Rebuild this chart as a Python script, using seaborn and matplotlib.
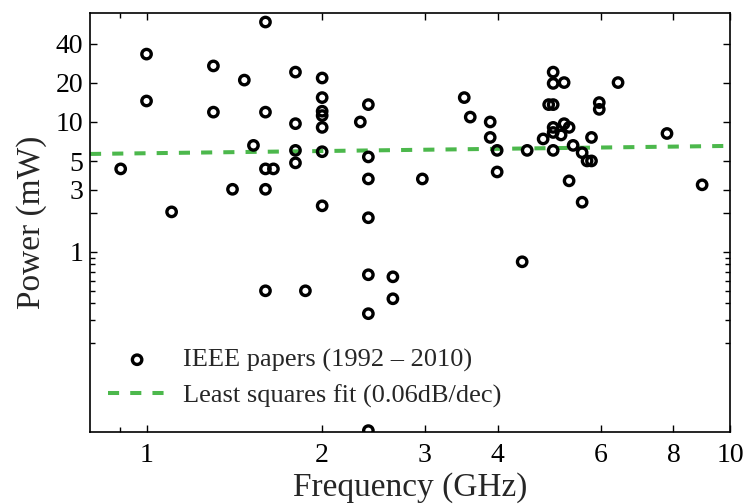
import numpy as np
import pandas as pd
import matplotlib
matplotlib.use("Agg")
import matplotlib.pyplot as plt
import seaborn as sns
from matplotlib.ticker import FixedLocator, FixedFormatter, NullFormatter

# ---- data ----
freq_ghz = [0.903, 1.0, 1.0, 1.104, 1.302, 1.302, 1.404, 1.471, 1.525, 1.599,
            1.599, 1.599, 1.650, 1.599, 1.800, 1.800, 1.800, 1.800, 2.0, 2.0,
            2.0, 2.0, 2.0, 2.0, 2.0, 2.325, 2.4, 2.4, 2.4, 2.4,
            1.599, 1.872, 2.4, 2.644, 2.644, 2.4, 2.4, 2.97, 3.504, 3.588,
            3.882, 3.882, 3.99, 3.99, 4.404, 4.492, 4.977, 4.977, 5.197, 4.89,
            4.977, 4.977, 4.977, 5.197, 5.30, 5.135, 4.784, 4.977, 5.385, 5.58,
            5.69, 5.79, 5.30, 5.58, 5.79, 5.97, 5.97, 6.43, 7.80, 8.96]
power_mw = [4.35, 33.3, 14.5, 2.03, 27.0, 11.9, 3.03, 21.0, 6.6, 58.8,
            11.9, 4.35, 4.35, 3.03, 24.2, 9.7, 6.04, 4.84, 21.8, 15.4,
            12.1, 11.2, 9.08, 5.9, 2.26, 10.0, 13.6, 5.38, 3.64, 1.83,
            0.501, 0.501, 0.666, 0.642, 0.435, 0.334, 0.042, 3.64, 15.4, 10.9,
            10.0, 7.6, 6.04, 4.12, 0.838, 6.04, 24.2, 19.8, 20.1, 13.6,
            13.6, 9.08, 8.3, 9.7, 9.08, 7.94, 7.4, 6.04, 6.6, 5.8,
            5.01, 5.01, 3.52, 2.41, 7.6, 14.1, 12.5, 20.1, 8.15, 3.28]

fit_x = [0.8, 10.0]
fit_y = [5.67, 6.54]

x_major = [1, 2, 3, 4, 6, 8, 10]
x_major_labels = ["1", "2", "3", "4", "6", "8", "10"]
x_minor = [0.9]
y_major = [1, 2, 3, 5, 10, 20, 40]
y_major_labels = ["1", "", "3", "5", "10", "20", "40"]
y_minor = [0.2, 0.3, 0.4, 0.5, 0.6, 0.7, 0.8, 0.9]

scatter_label = "IEEE papers (1992 \u2013 2010)"
fit_label = "Least squares fit (0.06dB/dec)"

# ---- style ----
sns.set_style("ticks")
plt.rcParams["font.family"] = ["Liberation Serif", "DejaVu Serif"]
plt.rcParams["lines.scale_dashes"] = False

fig = plt.figure(figsize=(7.45, 5.04), dpi=100)
ax = fig.add_axes([0.1208, 0.1429, 0.859, 0.8313])

pts = pd.DataFrame({"f": freq_ghz, "p": power_mw})
fit = pd.DataFrame({"f": fit_x, "p": fit_y})

sns.lineplot(data=fit, x="f", y="p", ax=ax, color="#4cb84c", linewidth=2.9,
             dashes=False, label=fit_label, zorder=2)
ax.lines[-1].set_dashes([8, 8])
sns.scatterplot(data=pts, x="f", y="p", ax=ax, marker="o", s=46,
                facecolors="none", edgecolors="black", linewidth=2.4,
                label=scatter_label, zorder=3)

ax.set_xscale("log")
ax.set_yscale("log")
ax.set_xlim(0.8, 10)
ax.set_ylim(0.041, 69)

ax.xaxis.set_major_locator(FixedLocator(x_major))
ax.xaxis.set_major_formatter(FixedFormatter(x_major_labels))
ax.xaxis.set_minor_locator(FixedLocator(x_minor))
ax.xaxis.set_minor_formatter(NullFormatter())
ax.yaxis.set_major_locator(FixedLocator(y_major))
ax.yaxis.set_major_formatter(FixedFormatter(y_major_labels))
ax.yaxis.set_minor_locator(FixedLocator(y_minor))
ax.yaxis.set_minor_formatter(NullFormatter())

ax.tick_params(which="both", direction="in", top=True, right=True,
               width=1.0, colors="black", labelsize=20)
ax.tick_params(which="major", length=5, pad=8)
ax.tick_params(which="minor", length=3.5)
ax.tick_params(axis="y", which="major", pad=5)

for s in ax.spines.values():
    s.set_linewidth(1.2)
    s.set_color("black")

ax.set_xlabel("Frequency (GHz)", fontsize=24, labelpad=3)
ax.set_ylabel("Power (mW)", fontsize=24, labelpad=6)

h, l = ax.get_legend_handles_labels()
order = [l.index(scatter_label), l.index(fit_label)]
ax.legend([h[i] for i in order], [l[i] for i in order], loc="lower left",
          bbox_to_anchor=(0.02, 0.045), frameon=False, fontsize=19,
          handlelength=2.2, handletextpad=0.65, labelspacing=0.45,
          borderaxespad=0, borderpad=0.2)

fig.savefig("out.png", dpi=100)
